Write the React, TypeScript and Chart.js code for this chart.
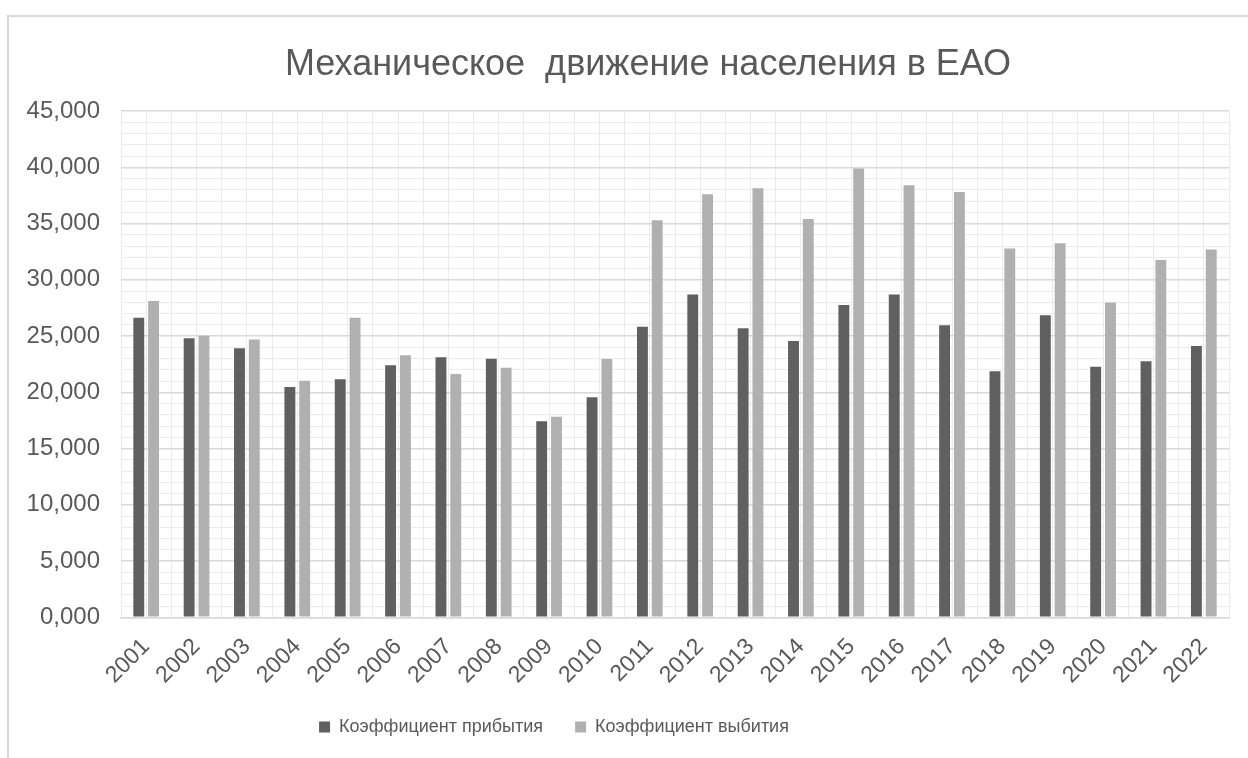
import React, { useEffect, useRef } from 'react';
import { Chart, registerables } from 'chart.js';

Chart.register(...registerables);

const TITLE = 'Механическое  движение населения в ЕАО';

const years = [
  '2001', '2002', '2003', '2004', '2005', '2006', '2007', '2008', '2009', '2010', '2011',
  '2012', '2013', '2014', '2015', '2016', '2017', '2018', '2019', '2020', '2021', '2022',
];

const arrivalRate = [
  26.63, 24.8, 23.91, 20.47, 21.16, 22.4, 23.11, 22.99, 17.42, 19.56, 25.83,
  28.7, 25.69, 24.56, 27.76, 28.68, 25.96, 21.86, 26.84, 22.28, 22.75, 24.12,
];

const departureRate = [
  28.12, 25.03, 24.68, 21.03, 26.63, 23.29, 21.63, 22.19, 17.83, 22.96, 35.29,
  37.6, 38.13, 35.4, 39.88, 38.4, 37.8, 32.77, 33.24, 27.97, 31.76, 32.68,
];

const seriesNames = ['Коэффициент прибытия', 'Коэффициент выбития'];
const seriesColors = ['#606060', '#b0b0b0'];

const yMin = 0;
const yMax = 45;
const yMinorStep = 1;
const yMajorStep = 5;

const TEXT = '#595959';
const FONT = '"Liberation Sans", Arial, sans-serif';

const fmt = (v: number) => v.toFixed(3).replace('.', ',');

export default function App() {
  const ref = useRef<HTMLCanvasElement>(null);

  useEffect(() => {
    document.body.style.margin = '0';
    const legendPad = 32;
    const boxShift = {
      id: 'boxShift',
      afterLayout(chart: any) {
        const lg = chart.legend;
        if (lg && lg.lineWidths) {
          const x0 = (lg.left + legendPad + lg.right - lg.lineWidths[0]) / 2;
          const total = lg.lineWidths[0] - legendPad;
          const desired = 554 - total / 2;
          const shift = desired - x0;
          lg.left += shift;
          lg.right += shift;
        }
        const tb = chart.titleBlock;
        if (tb) {
          const c = (tb.left + tb.right) / 2;
          const d = 648 - c;
          tb.left += d;
          tb.right += d;
        }
      },
    };

    const chart = new Chart(ref.current as HTMLCanvasElement, {
      type: 'bar',
      data: {
        labels: years,
        datasets: [
          {
            label: seriesNames[0],
            data: arrivalRate,
            backgroundColor: seriesColors[0],
            borderWidth: 0,
            categoryPercentage: 0.588,
            barPercentage: 0.736,
          },
          {
            label: seriesNames[1],
            data: departureRate,
            backgroundColor: seriesColors[1],
            borderWidth: 0,
            categoryPercentage: 0.588,
            barPercentage: 0.736,
          },
        ],
      },
      options: {
        responsive: false,
        animation: false,
        devicePixelRatio: 1,
        layout: { padding: { left: 16, right: 19, top: 0, bottom: 12 } },
        plugins: {
          tooltip: { enabled: false },
          title: {
            display: true,
            text: TITLE,
            color: TEXT,
            font: { family: FONT, size: 36, weight: 'normal' },
            padding: { top: 43, bottom: 24.8 },
          },
          legend: {
            position: 'bottom',
            labels: {
              color: TEXT,
              font: { family: FONT, size: 18 },
              boxWidth: 11,
              boxHeight: 11,
              padding: legendPad,
            },
          },
        },
        scales: {
          x: {
            type: 'category',
            offset: true,
            grid: { offset: true, color: '#ececec', lineWidth: 1, drawTicks: false },
            border: { display: true, color: '#d9d9d9', width: 1.5 },
            ticks: {
              color: TEXT,
              font: { family: FONT, size: 23 },
              minRotation: 45,
              maxRotation: 45,
              autoSkip: false,
              padding: 16,
            },
            afterFit: (s: any) => {
              s.height = 68.7;
            },
          },
          x2: {
            type: 'category',
            axis: 'x',
            position: 'top',
            offset: true,
            grid: { offset: false, color: '#ececec', lineWidth: 1, drawTicks: false },
            border: { display: false },
            ticks: { display: false },
            afterFit: (s: any) => {
              s.height = 0;
            },
          },
          y: {
            min: yMin,
            max: yMax,
            grid: {
              drawTicks: false,
              color: (c: any) =>
                c.tick && Math.round(c.tick.value) % yMajorStep === 0 ? '#d9d9d9' : '#ececec',
              lineWidth: (c: any) =>
                c.tick && Math.round(c.tick.value) % yMajorStep === 0 ? 1.5 : 1,
            },
            border: { display: false },
            ticks: {
              stepSize: yMinorStep,
              autoSkip: false,
              color: TEXT,
              font: { family: FONT, size: 24 },
              padding: 21,
              callback: (v: any) => {
                const n = Math.round(Number(v));
                return n % yMajorStep === 0 ? fmt(n) : '';
              },
            },
            afterFit: (s: any) => {
              s.width = 121 - 16;
            },
          },
        },
      } as any,
      plugins: [boxShift],
    });
    return () => chart.destroy();
  }, []);

  return (
    <div
      style={{
        position: 'fixed',
        left: 0,
        top: 0,
        width: 1248,
        height: 758,
        overflow: 'hidden',
        background: '#ffffff',
      }}
    >
      <div
        style={{
          position: 'absolute',
          left: 7,
          top: 15,
          width: 2000,
          height: 2000,
          borderLeft: '2px solid #d9d9d9',
          borderTop: '2px solid #d9d9d9',
        }}
      />
      <canvas
        ref={ref}
        width={1248}
        height={758}
        style={{ position: 'absolute', left: 0, top: 0, width: 1248, height: 758 }}
      />
    </div>
  );
}
